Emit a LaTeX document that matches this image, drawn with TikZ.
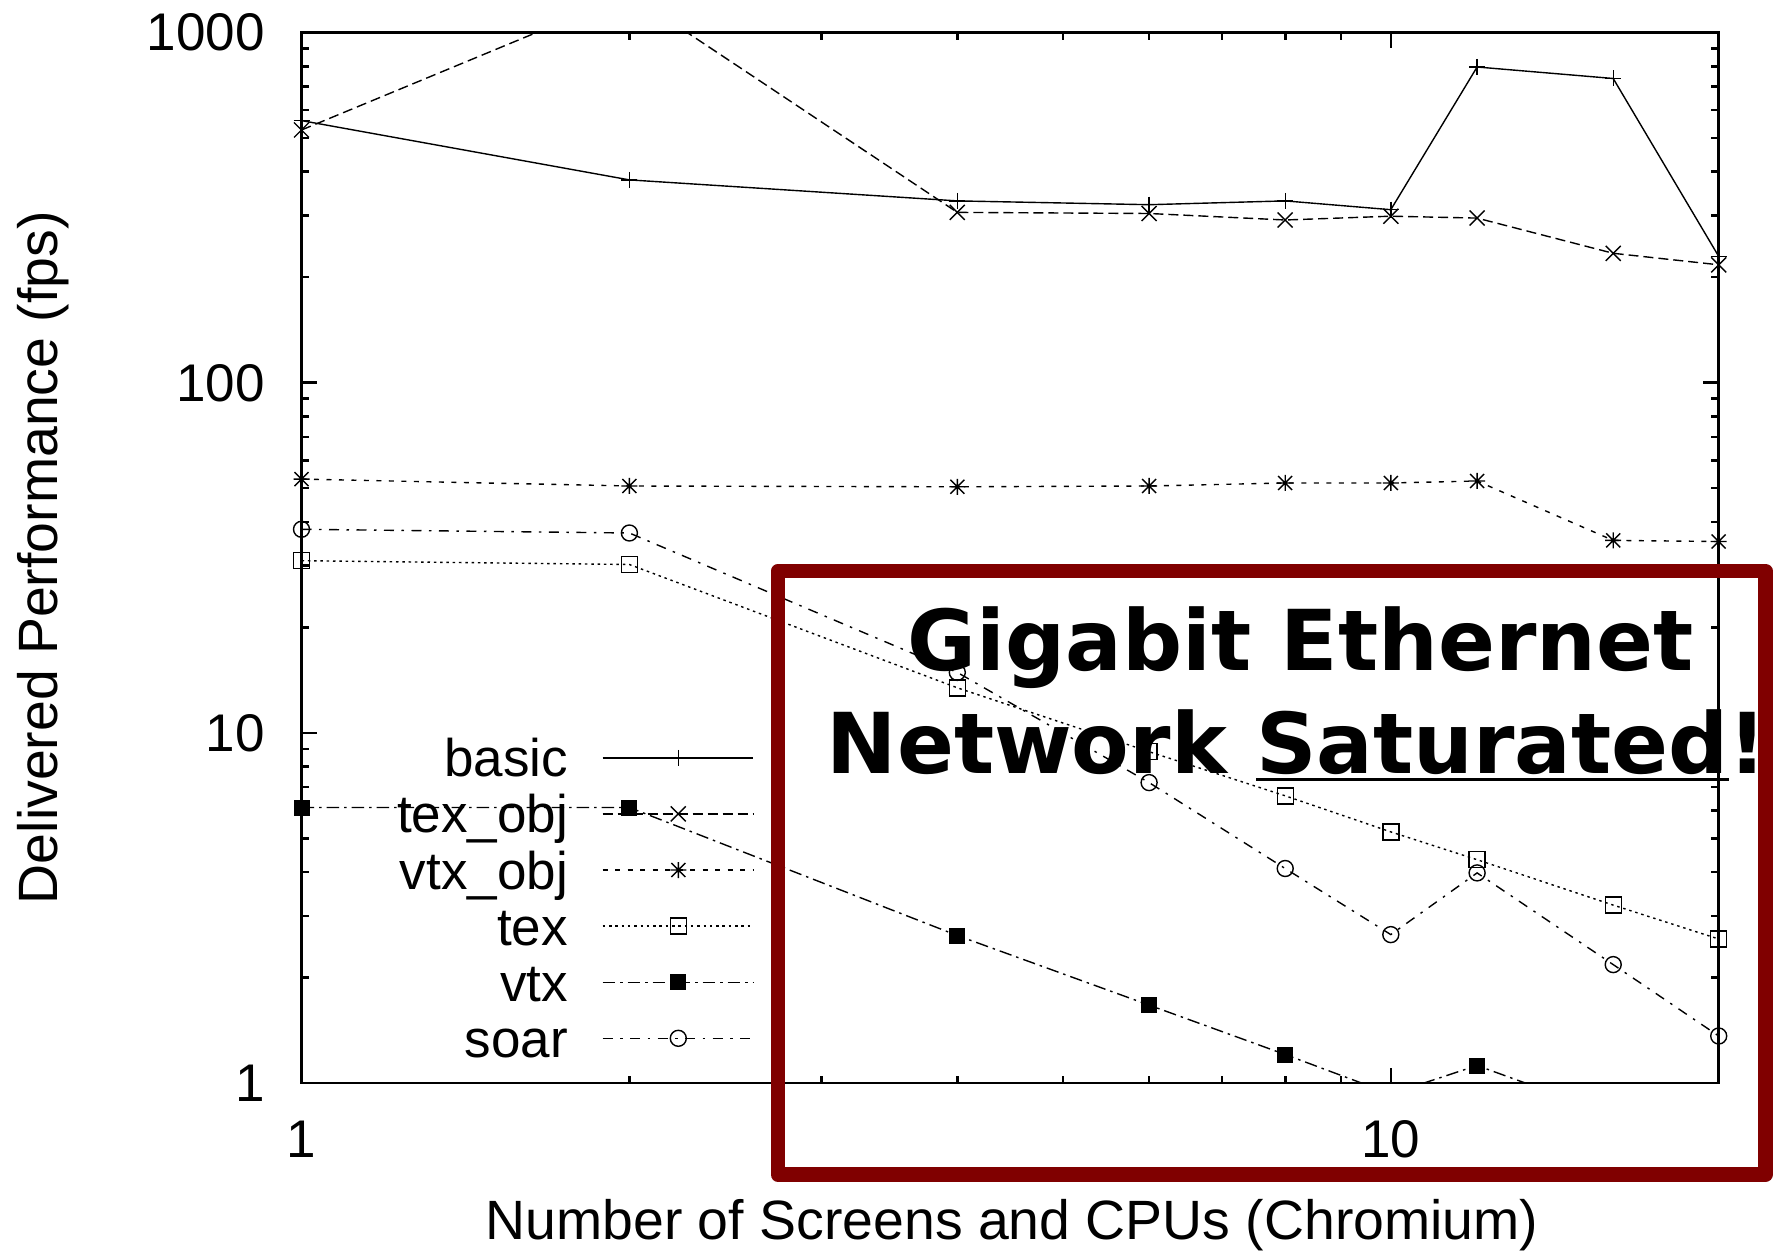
\documentclass[tikz,border=0pt]{standalone}
\usepackage{fontspec}
\setmainfont{Liberation Sans}
\newfontfamily\dvs{DejaVu Sans}
\newcommand\myul[1]{\setbox0\hbox{#1}\rlap{\rule[-3.75pt]{\wd0}{1.5pt}}\box0}
\definecolor{boxred}{HTML}{800000}
\tikzset{
  frame/.style={line width=1.4pt},
  tk/.style={line width=1.3pt},
  dl/.style={line width=0.7pt},
  lt0/.style={dl},
  lt1/.style={dl, dash pattern=on 5pt off 2.5pt},
  lt2/.style={dl, dash pattern=on 2.5pt off 3.75pt},
  lt3/.style={dl, dash pattern=on 1.25pt off 1.9pt},
  lt4/.style={dl, dash pattern=on 6.25pt off 2.5pt on 1.25pt off 2.5pt},
  lt5/.style={dl, dash pattern=on 5pt off 3.75pt on 1.25pt off 3.75pt},
  ticklbl/.style={font=\fontsize{26.5}{30}\selectfont, inner sep=0pt},
  keylbl/.style={font=\fontsize{26.5}{30}\selectfont, inner sep=0pt, anchor=base east},
  axlbl/.style={font=\fontsize{27.7}{32}\selectfont, inner sep=0pt},
  titlelbl/.style={font=\dvs\bfseries\fontsize{42}{50}\selectfont, inner sep=0pt, anchor=base},
  mplus/.pic={\draw[dl] (-8,0)--(8,0) (0,-8)--(0,8);},
  mcross/.pic={\draw[dl] (-7.5,-7.5)--(7.5,7.5) (-7.5,7.5)--(7.5,-7.5);},
  mstar/.pic={\draw[dl] (-8,0)--(8,0) (0,-8)--(0,8) (-7,-7)--(7,7) (-7,7)--(7,-7);},
  mbox/.pic={\draw[dl] (-8,-8) rectangle (8,8);},
  mfbox/.pic={\fill (-8,-8) rectangle (8,8);},
  mcirc/.pic={\draw[dl] (0,0) circle[radius=8];}
}
\begin{document}
\begin{tikzpicture}[x=0.5pt,y=-0.5pt]
\useasboundingbox (0,0) rectangle (1773,1251);
\fill[white] (0,0) rectangle (1773,1251);

% frame and ticks
\draw[frame] (301.5,32.4) rectangle (1718.7,1083);
\foreach \k in {0,1,2,3} {
  \draw[tk] (301.5,{1083-350.2*\k}) -- ++(15.5,0);
  \draw[tk] (1718.7,{1083-350.2*\k}) -- ++(-15.5,0);
}
\foreach \k in {0,1,2} {
  \foreach \m in {2,...,9} {
    \pgfmathsetmacro\yy{1083-350.2*(\k+log10(\m))}
    \draw[tk] (301.5,\yy) -- ++(7.5,0);
    \draw[tk] (1718.7,\yy) -- ++(-7.5,0);
  }
}
\draw[tk] (1390.8,1083) -- ++(0,-15.5);
\draw[tk] (1390.8,32.4) -- ++(0,15.5);
\foreach \m in {2,...,9} {
  \pgfmathsetmacro\xx{301.5+1089.3*log10(\m)}
  \draw[tk] (\xx,1083) -- ++(0,-7.5);
  \draw[tk] (\xx,32.4) -- ++(0,7.5);
}

% tick labels
\node[ticklbl, anchor=base east] (y1000) at (265,50.9) {1000};
\node[ticklbl, anchor=base east] (y100) at (265,401.1) {100};
\node[ticklbl, anchor=base east] (y10) at (265,751.3) {10};
\node[ticklbl, anchor=base east] (y1) at (265,1101.5) {1};
\node[ticklbl, anchor=base] (x1) at (301.5,1157.5) {1};
\node[ticklbl, anchor=base] (x10) at (1390.8,1157.5) {10};

% axis labels
\node[axlbl, anchor=base] (xlab) at (1012,1239) {Number of Screens and CPUs (Chromium)};
\node[axlbl, rotate=90, anchor=base] (ylab) at (57,557.7) {Delivered Performance (fps)};

% key
\node[keylbl] (kbasic) at (568.3,776.8) {basic};
\node[keylbl] (ktexobj) at (568.3,832.9) {tex\_obj};
\node[keylbl] (kvtxobj) at (568.3,889.0) {vtx\_obj};
\node[keylbl] (ktex) at (568.3,945.1) {tex};
\node[keylbl] (kvtx) at (568.3,1001.2) {vtx};
\node[keylbl] (ksoar) at (568.3,1057.3) {soar};
\draw[lt0] (602.7,757.8) -- (753.3,757.8);
\draw[lt1] (602.7,813.9) -- (753.3,813.9);
\draw[lt2] (602.7,870.0) -- (753.3,870.0);
\draw[lt3] (602.7,926.1) -- (753.3,926.1);
\draw[lt4] (602.7,982.2) -- (753.3,982.2);
\draw[lt5] (602.7,1038.3) -- (753.3,1038.3);
\pic at (678.3,757.8) {mplus};
\pic at (678.3,813.9) {mcross};
\pic at (678.3,870.0) {mstar};
\pic at (678.3,926.1) {mbox};
\pic at (678.3,982.2) {mfbox};
\pic at (678.3,1038.3) {mcirc};

% data lines
\begin{scope}
\clip (301.5,32.4) rectangle (1718.7,1083);
\draw[lt0] (301.5,120.6) -- (629.4,179.9) -- (957.3,200.9) -- (1149.1,204.7) -- (1285.2,200.9) -- (1390.8,209.7) -- (1477.1,67) -- (1613.2,78.5) -- (1718.7,256.4);
\draw[lt1] (301.5,130) -- (629.4,-6) -- (957.3,212.4) -- (1149.1,213.5) -- (1285.2,220) -- (1390.8,216.2) -- (1477.1,218.1) -- (1613.2,253.3) -- (1718.7,264.8);
\draw[lt2] (301.5,479.1) -- (629.4,486) -- (957.3,486.8) -- (1149.1,486) -- (1285.2,483) -- (1390.8,483) -- (1477.1,481) -- (1613.2,540.4) -- (1718.7,541.5);
\draw[lt3] (301.5,560.7) -- (629.4,564.5) -- (957.3,687.8) -- (1149.1,751.7) -- (1285.2,795.8) -- (1390.8,831.9) -- (1477.1,859.7) -- (1613.2,905.1) -- (1718.7,939);
\draw[lt4] (301.5,807.5) -- (629.4,807.5) -- (957.3,935.5) -- (1149.1,1005.1) -- (1285.2,1054.5) -- (1390.8,1094) -- (1477.1,1065.5) -- (1613.2,1115) -- (1718.7,1150);
\draw[lt5] (301.5,529.3) -- (629.4,533) -- (957.3,672.4) -- (1149.1,782.6) -- (1285.2,868.5) -- (1390.8,934.6) -- (1477.1,872.9) -- (1613.2,964.6) -- (1718.7,1036);
\end{scope}

% data marks
\foreach \p in {(301.5,120.6),(629.4,179.9),(957.3,200.9),(1149.1,204.7),(1285.2,200.9),(1390.8,209.7),(1477.1,67),(1613.2,78.5),(1718.7,256.4)}
  \pic at \p {mplus};
\foreach \p in {(301.5,130),(957.3,212.4),(1149.1,213.5),(1285.2,220),(1390.8,216.2),(1477.1,218.1),(1613.2,253.3),(1718.7,264.8)}
  \pic at \p {mcross};
\foreach \p in {(301.5,479.1),(629.4,486),(957.3,486.8),(1149.1,486),(1285.2,483),(1390.8,483),(1477.1,481),(1613.2,540.4),(1718.7,541.5)}
  \pic at \p {mstar};
\foreach \p in {(301.5,560.7),(629.4,564.5),(957.3,687.8),(1149.1,751.7),(1285.2,795.8),(1390.8,831.9),(1477.1,859.7),(1613.2,905.1),(1718.7,939)}
  \pic at \p {mbox};
\foreach \p in {(301.5,807.5),(629.4,807.5),(957.3,935.5),(1149.1,1005.1),(1285.2,1054.5),(1477.1,1065.5)}
  \pic at \p {mfbox};
\foreach \p in {(301.5,529.3),(629.4,533),(957.3,672.4),(1149.1,782.6),(1285.2,868.5),(1390.8,934.6),(1477.1,872.9),(1613.2,964.6),(1718.7,1036)}
  \pic at \p {mcirc};

% annotation box
\draw[line width=7.25pt, boxred, line join=round] (778,571) rectangle (1765.5,1174.7);
\node[titlelbl] (t1) at (1300.6,670) {Gigabit Ethernet};
\node[titlelbl] (t2) at (1297,773.3) {Network \myul{Saturated}!};
\end{tikzpicture}
\end{document}
